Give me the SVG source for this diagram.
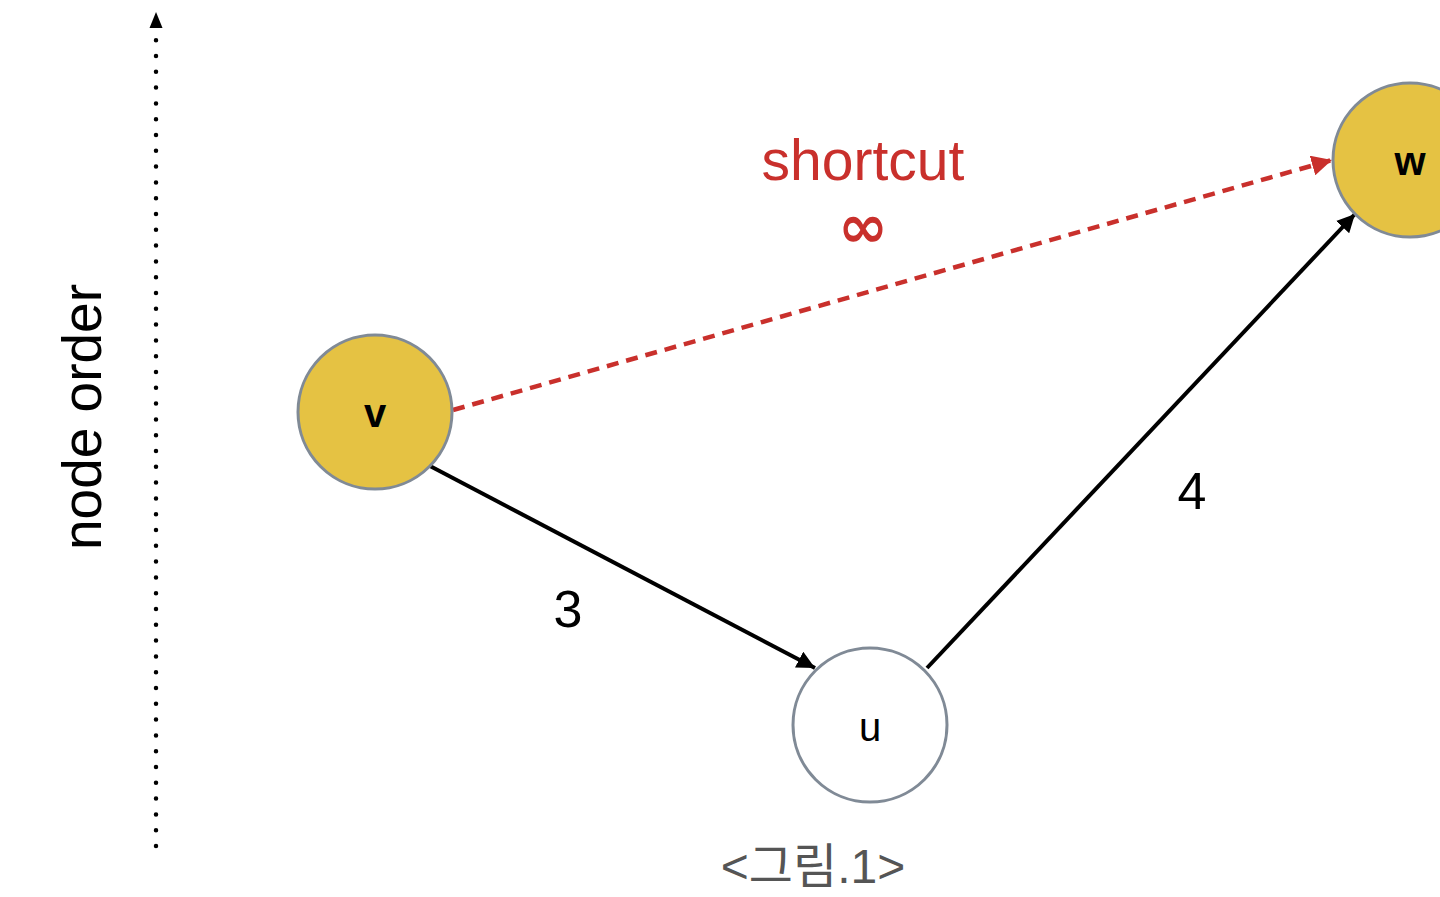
<svg xmlns="http://www.w3.org/2000/svg" width="1440" height="897" viewBox="0 0 1440 897">
<style>
.node{stroke:#808a96;stroke-width:3}
.hl{fill:#e5c243}
.plain{fill:#ffffff}
.nl{font-family:"Liberation Sans",Arial,sans-serif;font-size:40px;fill:#000;text-anchor:middle}
.el{font-family:"Liberation Sans",Arial,sans-serif;font-size:52px;fill:#000;text-anchor:middle}
</style>
<defs>
<marker id="ab" viewBox="0 0 10 10" refX="10" refY="5" markerWidth="4.5" markerHeight="4.5" markerUnits="strokeWidth" orient="auto"><path d="M0,0 L10,5 L0,10 z" fill="#000"/></marker>
<marker id="ar" viewBox="0 0 10 10" refX="10" refY="5" markerWidth="4.5" markerHeight="4.5" markerUnits="strokeWidth" orient="auto"><path d="M0,0 L10,5 L0,10 z" fill="#c9302c"/></marker>
</defs>
<rect width="1440" height="897" fill="#fff"/>
<g id="axis">
<line x1="156" y1="846" x2="156" y2="30" stroke="#000" stroke-width="4.5" stroke-linecap="round" stroke-dasharray="0 15.8"/>
<path d="M149.5,28 L156,12 L162.5,28 z" fill="#000"/>
<text x="0" y="0" transform="translate(101,417) rotate(-90)" font-family="Liberation Sans,Arial,sans-serif" font-size="55" text-anchor="middle" fill="#000">node order</text>
</g>
<g id="connectors">
<line x1="430" y1="466" x2="815" y2="668" stroke="#000" stroke-width="4" marker-end="url(#ab)"/>
<line x1="927" y1="668" x2="1355" y2="214" stroke="#000" stroke-width="4" marker-end="url(#ab)"/>
<line x1="453" y1="410" x2="1332" y2="160" stroke="#c9302c" stroke-width="4.5" stroke-dasharray="12 8" marker-end="url(#ar)"/>
<text class="el" x="568" y="627">3</text>
<text class="el" x="1192" y="509">4</text>
<text x="863" y="180" font-family="Liberation Sans,Arial,sans-serif" font-size="57" text-anchor="middle" fill="#c9302c">shortcut</text>
<text x="863" y="247" font-family="DejaVu Sans,sans-serif" font-size="60" font-weight="bold" text-anchor="middle" fill="#c9302c">∞</text>
</g>
<g id="node-v">
<circle class="node hl" cx="375" cy="412" r="77"/>
<text class="nl" x="375" y="427" font-weight="bold">v</text>
</g>
<g id="node-u">
<circle class="node plain" cx="870" cy="725" r="77"/>
<text class="nl" x="870" y="741">u</text>
</g>
<g id="node-w">
<circle class="node hl" cx="1410" cy="160" r="77"/>
<text class="nl" x="1410" y="175" font-weight="bold">w</text>
</g>
<text id="caption" x="813" y="883" font-family="Liberation Sans,'Noto Sans CJK KR',sans-serif" font-size="48" text-anchor="middle" fill="#555">&lt;그림.1&gt;</text>
</svg>
